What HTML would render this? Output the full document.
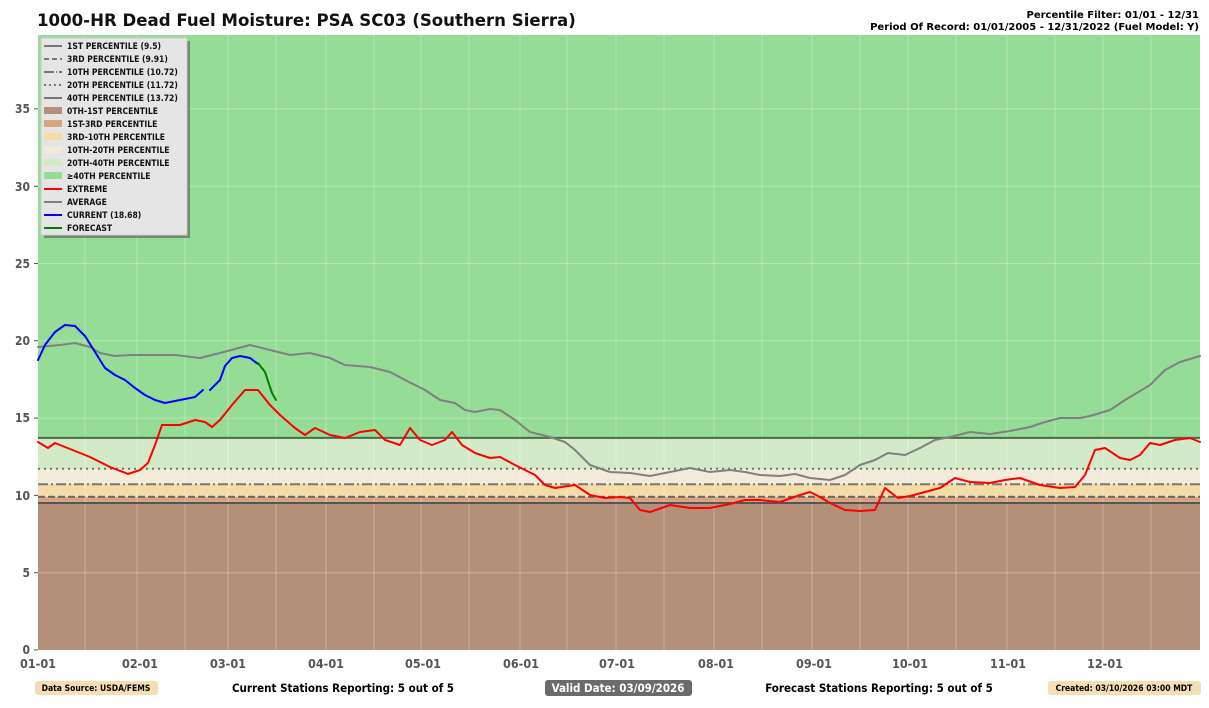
<!DOCTYPE html>
<html><head><meta charset="utf-8"><style>
body{margin:0;background:#fff;width:1209px;height:703px;overflow:hidden;font-family:"Liberation Sans","DejaVu Sans",sans-serif}
.c{font-family:"DejaVu Sans Condensed","DejaVu Sans",sans-serif}
</style></head><body>
<svg width="1209" height="703" xmlns="http://www.w3.org/2000/svg" font-family="DejaVu Sans, Liberation Sans, sans-serif">
<text x="37" y="26" font-size="16.6" font-weight="bold" fill="#111">1000-HR Dead Fuel Moisture: PSA SC03 (Southern Sierra)</text>
<text x="1199" y="18" font-size="10" font-weight="bold" text-anchor="end">Percentile Filter: 01/01 - 12/31</text>
<text x="1199" y="30" font-size="10" font-weight="bold" text-anchor="end">Period Of Record: 01/01/2005 - 12/31/2022 (Fuel Model: Y)</text>
<rect x="38" y="35" width="1162" height="403" fill="#95dc96"/>
<rect x="38" y="438" width="1162" height="31" fill="#d3eac8"/>
<rect x="38" y="469" width="1162" height="15" fill="#f3ebda"/>
<rect x="38" y="484" width="1162" height="13" fill="#f4dca6"/>
<rect x="38" y="497" width="1162" height="6" fill="#d8a583"/>
<rect x="38" y="503" width="1162" height="147" fill="#b49078"/>
<g stroke="#fff" stroke-opacity="0.3" stroke-width="1">
<line x1="85" y1="35" x2="85" y2="650"/><line x1="137" y1="35" x2="137" y2="650"/><line x1="185" y1="35" x2="185" y2="650"/><line x1="228" y1="35" x2="228" y2="650"/><line x1="276" y1="35" x2="276" y2="650"/><line x1="326" y1="35" x2="326" y2="650"/><line x1="374" y1="35" x2="374" y2="650"/><line x1="421" y1="35" x2="421" y2="650"/><line x1="469" y1="35" x2="469" y2="650"/><line x1="520" y1="35" x2="520" y2="650"/><line x1="567" y1="35" x2="567" y2="650"/><line x1="616" y1="35" x2="616" y2="650"/><line x1="664" y1="35" x2="664" y2="650"/><line x1="714" y1="35" x2="714" y2="650"/><line x1="762" y1="35" x2="762" y2="650"/><line x1="812" y1="35" x2="812" y2="650"/><line x1="860" y1="35" x2="860" y2="650"/><line x1="908" y1="35" x2="908" y2="650"/><line x1="956" y1="35" x2="956" y2="650"/><line x1="1007" y1="35" x2="1007" y2="650"/><line x1="1055" y1="35" x2="1055" y2="650"/><line x1="1103" y1="35" x2="1103" y2="650"/><line x1="1151" y1="35" x2="1151" y2="650"/>
<line x1="38" y1="572.7" x2="1200" y2="572.7"/><line x1="38" y1="495.4" x2="1200" y2="495.4"/><line x1="38" y1="418.1" x2="1200" y2="418.1"/><line x1="38" y1="340.8" x2="1200" y2="340.8"/><line x1="38" y1="263.5" x2="1200" y2="263.5"/><line x1="38" y1="186.2" x2="1200" y2="186.2"/><line x1="38" y1="108.9" x2="1200" y2="108.9"/>
</g>
<line x1="38" y1="503" x2="1200" y2="503" stroke="#555" stroke-width="2"/>
<line x1="38" y1="496.8" x2="1200" y2="496.8" stroke="#666" stroke-width="2" stroke-dasharray="7,3"/>
<line x1="38" y1="484.3" x2="1200" y2="484.3" stroke="#777" stroke-width="2" stroke-dasharray="10,3,2,3"/>
<line x1="38" y1="468.8" x2="1200" y2="468.8" stroke="#667766" stroke-width="2" stroke-dasharray="2,4"/>
<line x1="38" y1="437.9" x2="1200" y2="437.9" stroke="#4a6a4a" stroke-width="2"/>
<g fill="none" stroke-width="2" stroke-linejoin="round" stroke-linecap="round">
<polyline stroke="#808080" points="38,347 60,345 75,343 90,347 100,353 115,356 130,355 150,355 175,355 200,358 220,353 250,345 270,350 290,355 310,353 330,358 345,365 370,367 390,372 405,380 425,390 440,400 455,403 465,410 475,412 490,409 500,410 515,420 530,432 550,437 565,442 575,450 590,465 610,472 630,473 650,476 670,472 690,468 710,472 730,470 745,472 760,475 780,476 795,474 810,478 830,480 845,475 860,465 875,460 888,453 905,455 920,448 935,440 950,437 970,432 990,434 1010,431 1030,427 1045,422 1060,418 1080,418 1090,416 1110,410 1125,400 1150,385 1165,370 1180,362 1200,356"/>
<polyline stroke="#ff0000" points="38,442 48,448 55,443 70,449 90,457 110,467 128,474 140,470 148,463 155,445 162,425 170,425 180,425 195,420 205,422 212,427 220,420 232,405 245,390 258,390 270,405 280,415 295,428 305,435 315,428 330,435 345,438 360,432 375,430 385,440 400,445 410,428 420,440 432,445 445,440 452,432 462,445 475,453 490,458 500,457 515,465 525,470 535,475 545,485 555,488 575,485 590,495 605,498 620,497 630,498 640,510 650,512 670,505 690,508 710,508 730,504 745,500 760,500 780,502 800,495 810,492 820,497 830,503 845,510 860,511 875,510 885,488 898,498 910,496 925,492 940,488 955,478 970,482 990,483 1005,480 1020,478 1040,485 1060,488 1075,487 1085,475 1095,450 1105,448 1120,458 1130,460 1140,455 1150,443 1160,445 1175,440 1190,438 1200,442"/>
<polyline stroke="#0000ff" points="38,360 45,345 55,332 65,325 75,326 85,336 95,352 105,368 115,375 125,380 135,388 145,395 155,400 165,403 180,400 195,397 203,390"/>
<polyline stroke="#0000ff" points="210,390 220,380 225,366 232,358 240,356 250,358 258,364"/>
<polyline stroke="#008000" points="258,363 265,372 272,393 276,400"/>
</g>
<g class="c" font-size="12" font-weight="bold" fill="#555" text-anchor="end">
<text x="30" y="654">0</text><text x="30" y="577">5</text><text x="30" y="500">10</text><text x="30" y="422">15</text><text x="30" y="345">20</text><text x="30" y="268">25</text><text x="30" y="191">30</text><text x="30" y="113">35</text>
</g>
<g stroke="#555"><line x1="34" y1="650" x2="38" y2="650"/><line x1="34" y1="572.7" x2="38" y2="572.7"/><line x1="34" y1="495.4" x2="38" y2="495.4"/><line x1="34" y1="418.1" x2="38" y2="418.1"/><line x1="34" y1="340.8" x2="38" y2="340.8"/><line x1="34" y1="263.5" x2="38" y2="263.5"/><line x1="34" y1="186.2" x2="38" y2="186.2"/><line x1="34" y1="108.9" x2="38" y2="108.9"/></g>
<g class="c" font-size="12.5" font-weight="bold" fill="#555" text-anchor="middle">
<text x="38" y="668">01-01</text><text x="140" y="668">02-01</text><text x="228" y="668">03-01</text><text x="326" y="668">04-01</text><text x="423" y="668">05-01</text><text x="521" y="668">06-01</text><text x="617" y="668">07-01</text><text x="716" y="668">08-01</text><text x="814" y="668">09-01</text><text x="910" y="668">10-01</text><text x="1008" y="668">11-01</text><text x="1105" y="668">12-01</text>
</g>
<rect x="44" y="41" width="146" height="197" fill="#555" opacity="0.6"/>
<rect x="41" y="38" width="146" height="197" fill="#e5e5e5" stroke="#ccc"/>
<g stroke-width="2">
<line x1="44" y1="46" x2="62" y2="46" stroke="#777"/>
<line x1="44" y1="59" x2="62" y2="59" stroke="#777" stroke-dasharray="5,3"/>
<line x1="44" y1="72" x2="62" y2="72" stroke="#777" stroke-dasharray="10,2,1,2"/>
<line x1="44" y1="85" x2="62" y2="85" stroke="#777" stroke-dasharray="2,3"/>
<line x1="44" y1="98" x2="62" y2="98" stroke="#777"/>
<line x1="44" y1="189" x2="62" y2="189" stroke="#f00"/>
<line x1="44" y1="202" x2="62" y2="202" stroke="#808080"/>
<line x1="44" y1="215" x2="62" y2="215" stroke="#00f"/>
<line x1="44" y1="228" x2="62" y2="228" stroke="#008000"/>
</g>
<rect x="44" y="107" width="18" height="7" fill="#b49078"/>
<rect x="44" y="120" width="18" height="7" fill="#d8a583"/>
<rect x="44" y="133" width="18" height="7" fill="#f4dca6"/>
<rect x="44" y="146" width="18" height="7" fill="#f3ebda"/>
<rect x="44" y="159" width="18" height="7" fill="#d3eac8"/>
<rect x="44" y="172" width="18" height="7" fill="#95dc96"/>
<g class="c" font-size="8.5" font-weight="bold" fill="#111">
<text x="67" y="49">1ST PERCENTILE (9.5)</text>
<text x="67" y="62">3RD PERCENTILE (9.91)</text>
<text x="67" y="75">10TH PERCENTILE (10.72)</text>
<text x="67" y="88">20TH PERCENTILE (11.72)</text>
<text x="67" y="101">40TH PERCENTILE (13.72)</text>
<text x="67" y="114">0TH-1ST PERCENTILE</text>
<text x="67" y="127">1ST-3RD PERCENTILE</text>
<text x="67" y="140">3RD-10TH PERCENTILE</text>
<text x="67" y="153">10TH-20TH PERCENTILE</text>
<text x="67" y="166">20TH-40TH PERCENTILE</text>
<text x="67" y="179">≥40TH PERCENTILE</text>
<text x="67" y="192">EXTREME</text>
<text x="67" y="205">AVERAGE</text>
<text x="67" y="218">CURRENT (18.68)</text>
<text x="67" y="231">FORECAST</text>
</g>
<g class="c" font-weight="bold">
<rect x="35" y="681" width="123" height="14" rx="3" fill="#f5deb3"/>
<text x="96" y="691" font-size="8.5" text-anchor="middle">Data Source: USDA/FEMS</text>
<text x="343" y="692" font-size="11.5" text-anchor="middle">Current Stations Reporting: 5 out of 5</text>
<rect x="545" y="680" width="147" height="16" rx="3" fill="#6b6b6b"/>
<text x="618" y="692" font-size="11.5" fill="#fff" text-anchor="middle">Valid Date: 03/09/2026</text>
<text x="879" y="692" font-size="11.5" text-anchor="middle">Forecast Stations Reporting: 5 out of 5</text>
<rect x="1048" y="681" width="153" height="14" rx="3" fill="#f5deb3"/>
<text x="1124" y="691" font-size="8.5" text-anchor="middle">Created: 03/10/2026 03:00 MDT</text>
</g>
</svg>
</body></html>
